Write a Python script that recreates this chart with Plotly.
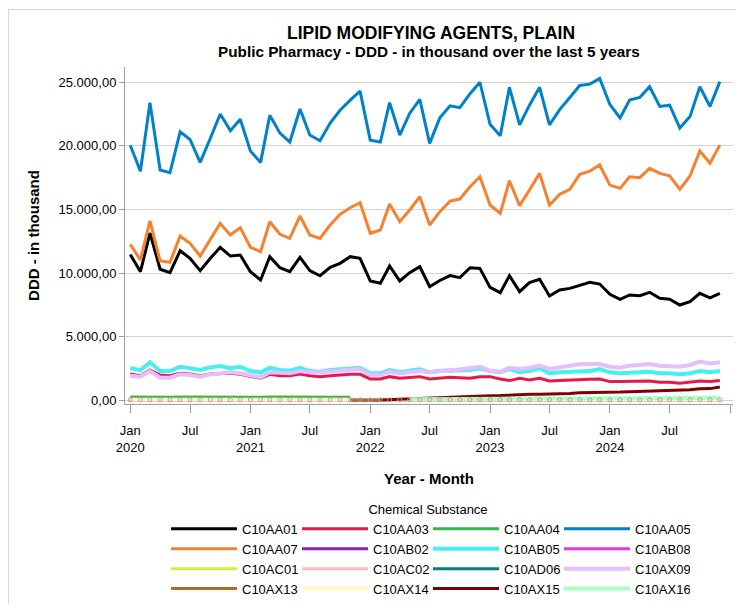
import plotly.graph_objects as go
import pandas as pd

months = pd.date_range("2020-01-01", periods=60, freq="MS")

C10AA01 = [11470, 10110, 13150, 10300, 10030, 11760, 11160, 10190, 11160, 12030, 11340, 11420,
           10110, 9460, 11290, 10420, 10110, 11240, 10190, 9790, 10450, 10770, 11290, 11160,
           9380, 9200, 10560, 9380, 10030, 10500, 8930, 9420, 9800, 9640, 10420, 10370,
           8880, 8460, 9800, 8540, 9250, 9510, 8200, 8670, 8800, 9060, 9270, 9140,
           8330, 7940, 8280, 8220, 8490, 8020, 7940, 7490, 7750, 8410, 8060, 8410]
C10AA03 = [2065, 1935, 2380, 1990, 1935, 2120, 2065, 1935, 2065, 2120, 2120, 2040,
           1860, 1730, 2040, 1935, 1935, 2065, 1935, 1860, 1935, 1990, 2040, 2040,
           1680, 1680, 1860, 1730, 1810, 1860, 1680, 1730, 1810, 1780, 1730, 1860,
           1860, 1680, 1550, 1730, 1600, 1730, 1520, 1550, 1600, 1600, 1650, 1680,
           1470, 1470, 1470, 1470, 1520, 1420, 1420, 1340, 1420, 1520, 1470, 1550]
C10AA04 = [260, 250, 280, 260, 250, 270, 260, 250, 260, 270, 260, 260,
           250, 240, 270, 260, 260, 270, 250, 240, 250, 250, 240, None,
           None, None, None, None, None, None, None, None, None, None, None, None,
           None, None, None, None, None, None, None, None, None, None, None, None,
           None, None, None, None, None, None, None, None, None, None, None, None]
C10AA05 = [20050, 18000, 23400, 18100, 17900, 21100, 20500, 18700, 20600, 22500, 21200, 22100,
           19600, 18700, 22400, 21000, 20300, 22900, 20850, 20400, 21800, 22800, 23600, 24300,
           20450, 20300, 23400, 20850, 22550, 23650, 20200, 22200, 23150, 23000, 24100, 25000,
           21700, 20800, 24600, 21650, 23200, 24600, 21650, 22850, 23800, 24750, 24850, 25300,
           23250, 22200, 23600, 23800, 24650, 23100, 23200, 21400, 22300, 24650, 23100, 25050]
C10AA07 = [12260, 11030, 14100, 10950, 10850, 12900, 12340, 11340, 12650, 13900, 13000, 13570,
           12030, 11680, 14040, 13050, 12730, 14490, 13000, 12730, 13780, 14620, 15140, 15530,
           13130, 13390, 15430, 14040, 14960, 16000, 13780, 14830, 15660, 15820, 16790, 17570,
           15350, 14700, 17260, 15300, 16530, 17840, 15350, 16190, 16580, 17760, 18020, 18500,
           16920, 16660, 17570, 17500, 18230, 17840, 17650, 16580, 17630, 19600, 18630, 20070]
C10AB02 = [2, 2, 2, 2, 2, 2, 2, 2, 2, 2, 2, 2,
           2, 2, 2, 2, 2, 2, 2, 2, 2, 2, 2, 2,
           2, 2, 2, 2, 2, 2, 2, 2, 2, 2, 2, 2,
           2, 2, 2, 2, 2, 2, 2, 2, 2, 2, 2, 2,
           2, 2, 2, 2, 2, 2, 2, 2, 2, 2, 2, 2]
C10AB05 = [2515, 2380, 2985, 2300, 2300, 2640, 2515, 2380, 2590, 2700, 2515, 2640,
           2300, 2200, 2560, 2380, 2330, 2560, 2300, 2250, 2380, 2460, 2515, 2560,
           2120, 2120, 2380, 2200, 2330, 2430, 2200, 2330, 2330, 2330, 2380, 2515,
           2300, 2200, 2460, 2200, 2300, 2515, 2120, 2200, 2250, 2250, 2300, 2460,
           2200, 2120, 2170, 2200, 2250, 2120, 2120, 2040, 2120, 2300, 2200, 2300]
C10AB08 = [1, 1, 1, 1, 1, 1, 1, 1, 1, 1, 1, 1,
           1, 1, 1, 1, 1, 1, 1, 1, 1, 1, 1, 1,
           1, 1, 1, 1, 1, 1, 1, 1, 1, 1, 1, 1,
           1, 1, 1, 1, 1, 1, 1, 1, 1, 1, 1, 1,
           1, 1, 1, 1, 1, 1, 1, 1, 1, 1, 1, 1]
C10AC01 = [10, 10, 10, 10, 10, 10, 10, 10, 10, 10, 10, 10,
           10, 10, 10, 10, 10, 10, 10, 10, 10, 10, 10, 10,
           10, 10, 10, 10, 10, 10, 10, 10, 10, 10, 10, 10,
           10, 10, 10, 10, 10, 10, 10, 10, 10, 10, 10, 10,
           10, 10, 10, 10, 10, 10, 10, 10, 10, 10, 10, 10]
C10AC02 = [40, 40, 40, 40, 40, 40, 40, 40, 40, 40, 40, 40,
           40, 40, 40, 40, 40, 40, 40, 40, 40, 40, 40, 40,
           40, 40, 40, 40, 40, 40, 40, 40, 40, 40, 40, 40,
           40, 40, 40, 40, 40, 40, 40, 40, 40, 40, 40, 40,
           40, 40, 40, 40, 40, 40, 40, 40, 40, 40, 40, 40]
C10AD06 = [5, 5, 5, 5, 5, 5, 5, 5, 5, 5, 5, 5,
           5, 5, 5, 5, 5, 5, 5, 5, 5, 5, 5, 5,
           5, 5, 5, 5, 5, 5, 5, 5, 5, 5, 5, 5,
           5, 5, 5, 5, 5, 5, 5, 5, 5, 5, 5, 5,
           5, 5, 5, 5, 5, 5, 5, 5, 5, 5, 5, 5]
C10AX09 = [1935, 1860, 2300, 1780, 1780, 2040, 1990, 1860, 2040, 2120, 2200, 2120,
           1935, 1810, 2200, 2120, 2120, 2300, 2200, 2200, 2250, 2330, 2380, 2460,
           2000, 2000, 2250, 2100, 2200, 2300, 2200, 2330, 2380, 2430, 2515, 2640,
           2330, 2250, 2560, 2460, 2560, 2720, 2460, 2590, 2720, 2830, 2850, 2850,
           2640, 2560, 2720, 2775, 2850, 2720, 2700, 2640, 2775, 3040, 2900, 2985]
C10AX13 = [8, 8, 8, 8, 8, 8, 8, 8, 8, 8, 8, 8,
           8, 8, 8, 8, 8, 8, 8, 8, 8, 8, 8, 8,
           8, 8, 8, 8, 8, 8, 8, 8, 8, 8, 8, 8,
           8, 8, 8, 8, 8, 8, 8, 8, 8, 8, 8, 8,
           8, 8, 8, 8, 8, 8, 8, 8, 8, 8, 8, 8]
C10AX14 = [50, 50, 50, 50, 50, 50, 50, 50, 50, 50, 50, 50,
           50, 50, 50, 50, 50, 50, 50, 50, 50, 50, 50, None,
           None, 50, 50, 50, 50, 50, 50, 50, 50, 50, 50, 50,
           50, 50, 50, 50, 50, 50, 50, 50, 50, 50, 50, 50,
           50, 50, 50, 50, 50, 50, 50, 50, 50, 50, 50, 50]
C10AX15 = [None, None, None, None, None, None, None, None, None, None, None, None,
           None, None, None, None, None, None, None, None, None, None, None, None,
           None, 30, 60, 100, 130, 160, 200, 240, 270, 300, 330, 360,
           360, 370, 410, 420, 480, 470, 480, 510, 540, 600, 600, 620,
           620, 650, 680, 700, 730, 750, 760, 780, 830, 900, 920, 1050]
C10AX16 = [None, None, None, None, None, None, None, None, None, None, None, None,
           None, None, None, None, None, None, None, None, None, None, None, None,
           None, None, None, None, 90, 100, 100, 110, 110, 120, 120, 120,
           130, 130, 130, 140, 140, 140, 150, 150, 150, 150, 160, 160,
           160, 170, 170, 170, 170, 180, 180, 180, 190, 190, 200, 200]

series = [
    ("C10AA01", C10AA01, "#000000", 3),
    ("C10AA03", C10AA03, "#e6194b", 3),
    ("C10AA04", C10AA04, "#3cb44b", 3),
    ("C10AA05", C10AA05, "#0082c8", 3),
    ("C10AA07", C10AA07, "#f58231", 3),
    ("C10AB02", C10AB02, "#911eb4", 3),
    ("C10AB05", C10AB05, "#46f0f0", 4),
    ("C10AB08", C10AB08, "#f032e6", 3),
    ("C10AC01", C10AC01, "#d2f53c", 3),
    ("C10AC02", C10AC02, "#fabebe", 3),
    ("C10AD06", C10AD06, "#008080", 3),
    ("C10AX09", C10AX09, "#e6beff", 4),
    ("C10AX13", C10AX13, "#aa6e28", 3),
    ("C10AX14", C10AX14, "#fffac8", 4),
    ("C10AX15", C10AX15, "#800000", 3),
    ("C10AX16", C10AX16, "#aaffc3", 4),
]

tick_dates = ["2020-01-01", "2020-07-01", "2021-01-01", "2021-07-01", "2022-01-01", "2022-07-01",
              "2023-01-01", "2023-07-01", "2024-01-01", "2024-07-01", "2025-01-01"]
tick_text = ["Jan<br>2020", "Jul", "Jan<br>2021", "Jul", "Jan<br>2022", "Jul",
             "Jan<br>2023", "Jul", "Jan<br>2024", "Jul", "Jan<br>2025"]
y_ticks = [0, 5000, 10000, 15000, 20000, 25000]
y_text = ["0,00", "5.000,00", "10.000,00", "15.000,00", "20.000,00", "25.000,00"]

fig = go.Figure()
for rank, (name, vals, color, w) in enumerate(series):
    fig.add_trace(go.Scatter(x=months, y=vals, name=name, mode="lines",
                             line=dict(color=color, width=w), legendrank=rank + 1,
                             legendgroup=name))
# open circle markers of C10AC02 shown on top of the near-zero band
fig.add_trace(go.Scatter(x=months, y=C10AC02, mode="markers", showlegend=False,
                         legendgroup="C10AC02",
                         marker=dict(symbol="circle-open", size=4, color="#d08aa8",
                                     line=dict(width=1, color="#d08aa8"))))

# the page body has an 8px margin: figure coords = reference coords - 8
OFF = 8
W, H = 744 - OFF, 604 - OFF
L, T = 125 - OFF, 67 - OFF
R = W - (733 - OFF)
B = H - (404 - OFF)
pw, ph = W - L - R, H - T - B

def px(xr):
    return (xr - OFF - L) / pw

def py(yr):
    return (H - B - (yr - OFF)) / ph

font = "Liberation Sans, Arial, sans-serif"
fig.update_layout(
    width=W, height=H,
    margin=dict(l=L, r=R, t=T, b=B, autoexpand=False),
    paper_bgcolor="white", plot_bgcolor="white",
    font=dict(family=font, size=13, color="#000000"),
    showlegend=True,
    legend=dict(orientation="h", x=px(166), y=py(497), xanchor="left", yanchor="top",
                title=dict(text="Chemical Substance", side="top center",
                           font=dict(size=13)),
                font=dict(size=13), itemwidth=66, entrywidth=50,
                tracegroupgap=0, bgcolor="rgba(0,0,0,0)"),
    xaxis=dict(type="date", range=["2019-12-16", "2025-01-10"],
               tickvals=tick_dates, ticktext=tick_text,
               ticks="outside", ticklen=8, tickcolor="#a0a0a0",
               showline=True, linecolor="#a0a0a0", linewidth=1,
               showgrid=False, zeroline=False, automargin=False,
               tickfont=dict(size=13), ticklabelstandoff=6,
               title=dict(text="<b>Year - Month</b>", font=dict(size=15), standoff=19)),
    yaxis=dict(range=[-290, 26200], tickvals=y_ticks, ticktext=y_text,
               ticks="outside", ticklen=5, tickcolor="#a0a0a0",
               showline=True, linecolor="#a0a0a0", linewidth=1,
               showgrid=True, gridcolor="#d4d4d4", gridwidth=1, zeroline=False,
               tickfont=dict(size=13), automargin=False,
               title=dict(text="<b>DDD - in thousand</b>", font=dict(size=15))),
    annotations=[
        dict(text="<b>LIPID MODIFYING AGENTS, PLAIN</b>", x=px(431), y=py(33),
             xref="paper", yref="paper", showarrow=False, xanchor="center", yanchor="middle",
             font=dict(size=17.5)),
        dict(text="<b>Public Pharmacy - DDD - in thousand over the last 5 years</b>",
             x=px(429), y=py(52), xref="paper", yref="paper", showarrow=False,
             xanchor="center", yanchor="middle", font=dict(size=15.3)),
    ],
    shapes=[dict(type="rect", xref="paper", yref="paper",
                 x0=px(8.5), x1=px(770), y0=py(640), y1=py(9.5),
                 line=dict(color="#d8d8d8", width=1), layer="below")],
)

fig.write_html("out.html")
